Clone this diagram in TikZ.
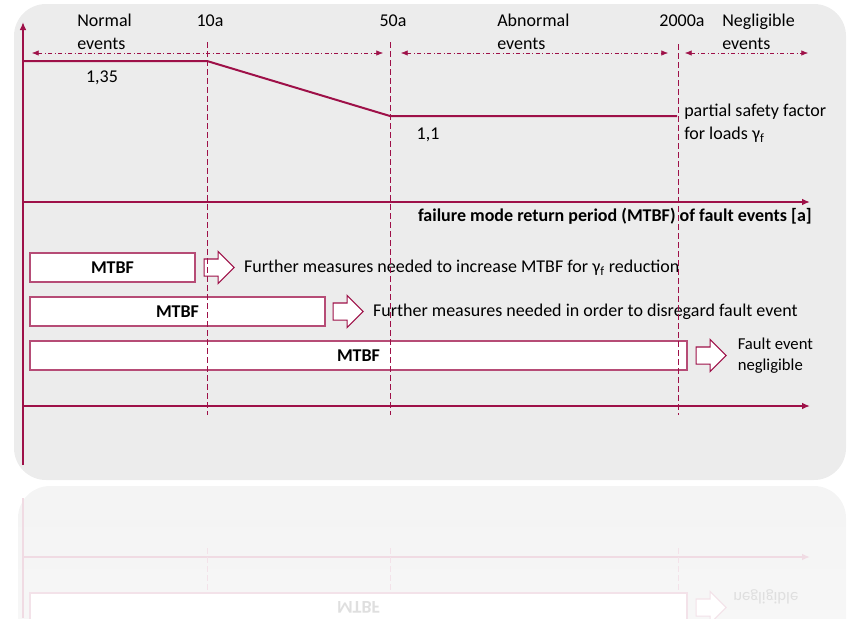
\documentclass[tikz,border=0pt]{standalone}
\usepackage{fontspec}
\setmainfont{Carlito}
\usetikzlibrary{shapes.arrows,positioning,arrows.meta}
\definecolor{bordeaux}{RGB}{158,16,72}
\definecolor{panelgray}{RGB}{236,236,236}

\begin{document}
\begin{tikzpicture}[x=0.75pt,y=-0.75pt,
  txt/.style={font=\fontsize{13.5}{17.25}\selectfont, inner sep=0pt, align=left},
  axis/.style={bordeaux, line width=1.5pt, -{Latex[length=6pt,width=5pt]}},
  zone/.style={bordeaux, thin, dash dot, {Latex[length=5pt,width=4pt]}-{Latex[length=5pt,width=4pt]}},
  limit/.style={bordeaux, thin, dash pattern=on 4.5pt off 2.25pt},
  mtbfbox/.style={draw=bordeaux!75, fill=white, thick, minimum height=21.75pt, inner sep=0pt, font=\fontsize{13.5}{16}\selectfont\bfseries},
  blockarrow/.style={single arrow, draw=bordeaux, fill=white, thick, inner xsep=0pt, inner ysep=6pt, minimum height=22.5pt, single arrow head extend=5.6pt}]
\useasboundingbox (0,0) rectangle (848,618);
\fill [panelgray, rounded corners=24pt] (14,4) rectangle (846,480);

% reflection under the panel
\begin{scope}
\clip (0,483) rectangle (848,618);
\shade [top color=gray!9, bottom color=white, rounded corners=24pt] (18,486) rectangle (846,963);
\draw [bordeaux!15, line width=1.5pt] (23,498) -- (23,618);
\draw [axis, bordeaux!15] (23,557) -- (810,557);
\draw [limit, bordeaux!12] (207,548) -- (207,618);
\draw [limit, bordeaux!12] (390,548) -- (390,618);
\draw [limit, bordeaux!12] (678,548) -- (678,618);
\node [mtbfbox, draw=bordeaux!12, text=gray!25, minimum width=492.75pt, yscale=-1] (rb3) at (358.5,607.5) {MTBF};
\node [blockarrow, draw=bordeaux!12, yscale=-1, right=6pt of rb3] (ra3) {};
\node [txt, text=gray!25, font=\fontsize{12.5}{15.75}\selectfont, yscale=-1, anchor=west] (rt3) at (733,597) {negligible};
\end{scope}

% axes
\draw [axis] (23,465) -- (23,22);
\draw [axis] (23,202) -- (810,202);
\draw [axis] (23,406) -- (810,406);

% partial safety factor
\draw [bordeaux, line width=1.5pt] (23,61) -- (207,61) -- (390,116) -- (677,116);
\node [txt] (g1) at (102,78) {1,35};
\node [txt] (g2) at (428,135) {1,1};
\node [txt, anchor=west] (gf) at (684,123) {partial safety factor\\for loads γ\textsubscript{f}};

% event zones
\draw [zone] (32,53) -- (383,53);
\draw [zone] (401,53) -- (668,53);
\draw [zone] (685,53) -- (808,53);
\node [txt, anchor=west] (normal) at (77,32) {Normal\\events};
\node [txt, anchor=west] (abnormal) at (497,32) {Abnormal\\events};
\node [txt, anchor=west] (neglig) at (722,32) {Negligible\\events};
\node [txt] (y10) at (210,21) {10a};
\node [txt] (y50) at (393,21) {50a};
\node [txt] (y2000) at (682,21) {2000a};
\node [txt, font=\fontsize{13.5}{17.25}\selectfont\bfseries, anchor=east] (xlabel) at (812,216) {failure mode return period (MTBF) of fault events [a]};

% MTBF bars
\node [mtbfbox, minimum width=123.75pt] (b1) at (112.5,267.5) {MTBF};
\node [mtbfbox, minimum width=221.25pt] (b2) at (177.5,311.5) {MTBF};
\node [mtbfbox, minimum width=492.75pt] (b3) at (358.5,355.5) {MTBF};
\node [blockarrow, right=6pt of b1] (a1) {};
\node [blockarrow, right=5.25pt of b2] (a2) {};
\node [blockarrow, right=6pt of b3] (a3) {};
\node [txt, right=6.75pt of a1] (t1) {Further measures needed to increase MTBF for γ\textsubscript{f} reduction};
\node [txt, right=6.75pt of a2] (t2) {Further measures needed in order to disregard fault event};
\node [txt, font=\fontsize{12.5}{15.75}\selectfont, right=8pt of a3] (t3) {Fault event\\negligible};

% limits
\draw [limit] (207,42) -- (207,415);
\draw [limit] (390,42) -- (390,415);
\draw [limit] (678,44) -- (678,415);
\end{tikzpicture}
\end{document}
